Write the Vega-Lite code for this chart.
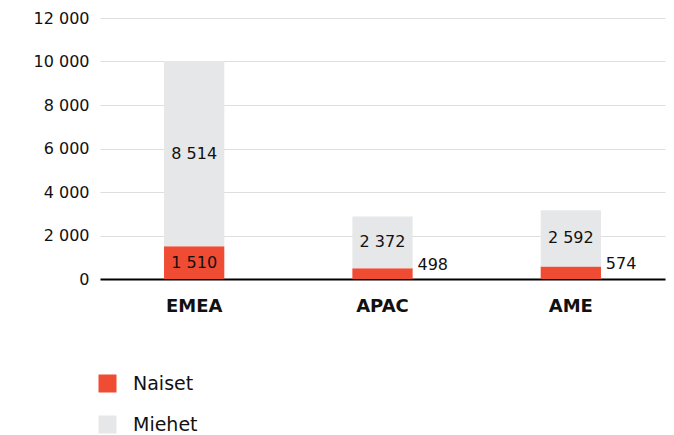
{
  "$schema": "https://vega.github.io/schema/vega-lite/v6.json",
  "width": 565,
  "height": 261,
  "autosize": {"type": "none"},
  "padding": {"left": 100, "top": 18, "right": 9, "bottom": 156},
  "config": {
    "locale": {"number": {"decimal": ",", "thousands": " ", "grouping": [3], "currency": ["", " €"]}},
    "font": "DejaVu Sans",
    "view": {"stroke": null},
    "axis": {"labelFont": "DejaVu Sans", "labelColor": "#111111"}
  },
  "data": {
    "values": [
      {"alue": "EMEA", "sukupuoli": "Naiset", "arvo": 1510, "jarj": 1},
      {"alue": "EMEA", "sukupuoli": "Miehet", "arvo": 8514, "jarj": 2},
      {"alue": "APAC", "sukupuoli": "Naiset", "arvo": 498, "jarj": 1},
      {"alue": "APAC", "sukupuoli": "Miehet", "arvo": 2372, "jarj": 2},
      {"alue": "AME", "sukupuoli": "Naiset", "arvo": 574, "jarj": 1},
      {"alue": "AME", "sukupuoli": "Miehet", "arvo": 2592, "jarj": 2}
    ]
  },
  "transform": [
    {"stack": "arvo", "groupby": ["alue"], "sort": [{"field": "jarj", "order": "ascending"}], "as": ["y0", "y1"]},
    {"calculate": "(datum.y0 + datum.y1) / 2", "as": "ymid"}
  ],
  "encoding": {
    "x": {
      "field": "alue",
      "type": "nominal",
      "sort": ["EMEA", "APAC", "AME"],
      "title": null,
      "scale": {"paddingInner": 0.68, "paddingOuter": 0.34},
      "axis": {
        "labelAngle": 0,
        "labelFontSize": 18,
        "labelFontWeight": "bold",
        "labelPadding": 18,
        "ticks": false,
        "domainColor": "#000000",
        "domainWidth": 2,
        "grid": false
      }
    }
  },
  "layer": [
    {
      "mark": {"type": "bar"},
      "encoding": {
        "y": {
          "field": "y0",
          "type": "quantitative",
          "title": null,
          "scale": {"domain": [0, 12000]},
          "axis": {
            "values": [0, 2000, 4000, 6000, 8000, 10000, 12000],
            "format": ",.0f",
            "labelFontSize": 16,
            "labelPadding": 11,
            "ticks": false,
            "domain": false,
            "gridColor": "#dedede",
            "gridWidth": 1
          }
        },
        "y2": {"field": "y1"},
        "color": {
          "field": "sukupuoli",
          "type": "nominal",
          "scale": {"domain": ["Naiset", "Miehet"], "range": ["#F04B33", "#E6E7E8"]},
          "legend": {
            "title": null,
            "orient": "none",
            "legendX": -2,
            "legendY": 356,
            "direction": "vertical",
            "symbolType": "square",
            "symbolSize": 324,
            "symbolStrokeWidth": 0,
            "labelFontSize": 19,
            "labelColor": "#111111",
            "labelOffset": 16,
            "rowPadding": 21
          }
        }
      }
    },
    {
      "transform": [{"filter": "datum.sukupuoli == 'Miehet' || datum.arvo >= 1000"}],
      "mark": {"type": "text", "fontSize": 16, "color": "#111111", "baseline": "middle"},
      "encoding": {
        "y": {"field": "ymid", "type": "quantitative"},
        "text": {"field": "arvo", "type": "quantitative", "format": ",.0f"}
      }
    },
    {
      "transform": [{"filter": "datum.sukupuoli == 'Naiset' && datum.arvo < 1000"}],
      "mark": {"type": "text", "fontSize": 16, "color": "#111111", "baseline": "middle", "align": "left", "dx": 35, "dy": -3},
      "encoding": {
        "y": {"field": "y1", "type": "quantitative"},
        "text": {"field": "arvo", "type": "quantitative", "format": ",.0f"}
      }
    }
  ]
}
